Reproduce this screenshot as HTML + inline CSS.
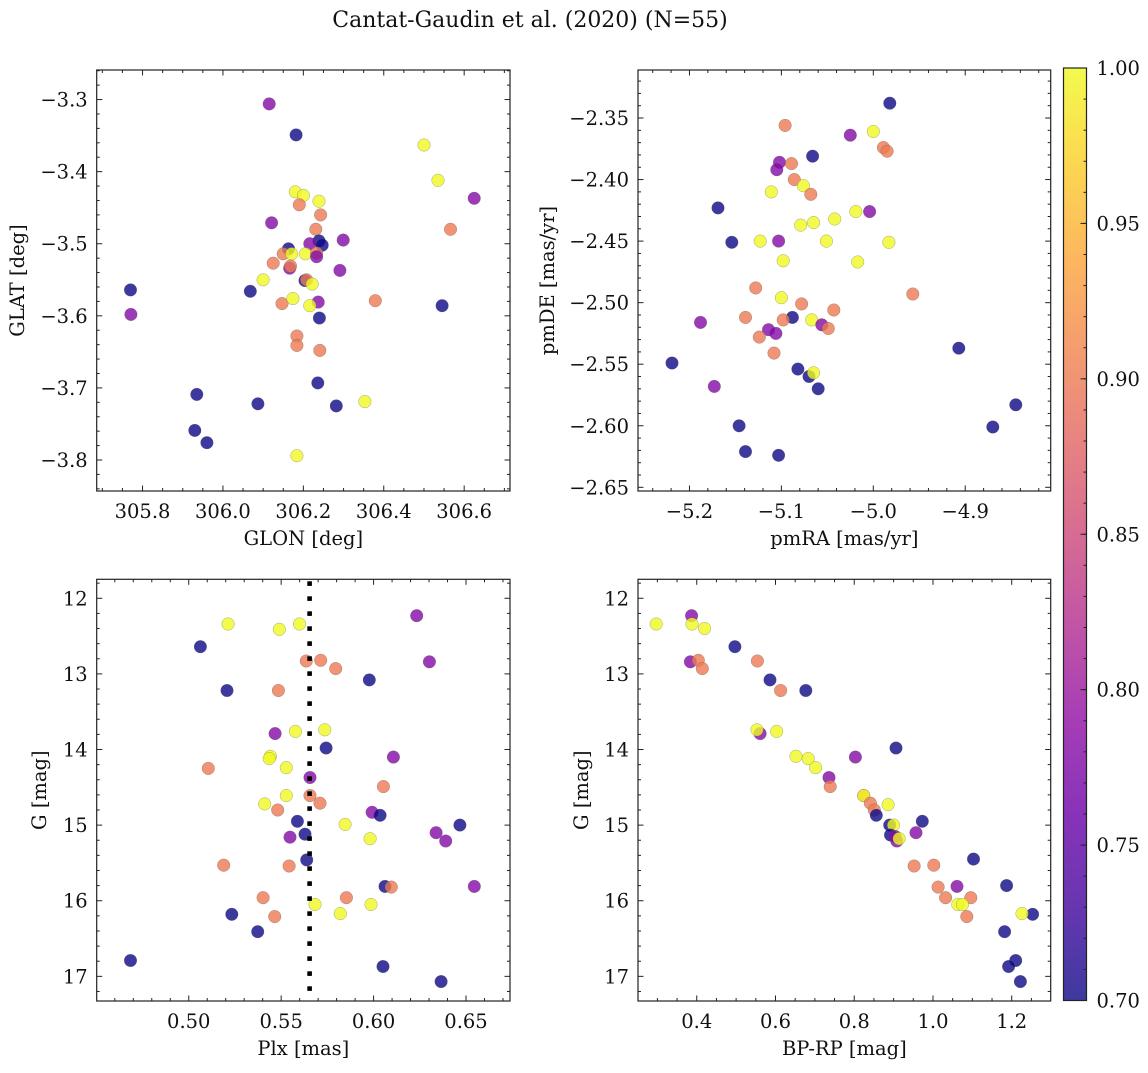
<!DOCTYPE html>
<html><head><meta charset="utf-8">
<style>
html,body{margin:0;padding:0;background:#fff;}
svg text{font-family:"DejaVu Serif","Liberation Serif",serif;fill:#111;}
</style></head>
<body>
<svg id="fig" width="1148" height="1068" viewBox="0 0 1148 1068" xmlns="http://www.w3.org/2000/svg">
<text x="530" y="27" font-size="22" text-anchor="middle">Cantat-Gaudin et al. (2020) (N=55)</text>
</svg>
<script>
// Panel 1: GLON vs GLAT
const p1x=[306.115,306.182,306.500,306.535,306.625,306.180,306.200,306.190,306.239,306.243,306.121,306.566,306.231,306.239,306.247,306.216,306.299,306.163,306.150,306.171,306.205,306.233,306.233,306.125,306.166,306.168,306.291,306.100,306.204,306.208,306.222,305.770,306.068,306.147,306.174,306.237,306.216,306.379,306.545,305.771,306.240,306.184,306.184,306.241,306.236,305.935,306.087,306.282,306.353,305.930,305.960,306.184];
const p1y=[-3.306,-3.349,-3.363,-3.412,-3.437,-3.428,-3.433,-3.446,-3.441,-3.460,-3.471,-3.480,-3.480,-3.496,-3.502,-3.500,-3.495,-3.507,-3.514,-3.514,-3.514,-3.513,-3.518,-3.527,-3.534,-3.531,-3.537,-3.550,-3.551,-3.550,-3.556,-3.564,-3.566,-3.583,-3.576,-3.581,-3.586,-3.579,-3.586,-3.598,-3.603,-3.628,-3.641,-3.648,-3.693,-3.709,-3.722,-3.725,-3.719,-3.759,-3.776,-3.794];
const p1c=[0.78,0.7,1,1,0.78,1,1,0.9,1,0.9,0.78,0.9,0.9,0.7,0.7,0.78,0.78,0.7,0.9,1,1,0.9,0.78,0.9,0.78,0.9,0.78,1,0.7,0.9,1,0.7,0.7,0.9,1,0.78,1,0.9,0.7,0.78,0.7,0.9,0.9,0.9,0.7,0.7,0.7,0.7,1,0.7,0.7,1];
// Panel 2: pmRA vs pmDE
const p2x=[-4.982,-5.096,-5.025,-5.000,-4.989,-4.985,-5.066,-5.102,-5.105,-5.089,-5.086,-5.076,-5.111,-5.068,-5.169,-5.019,-5.004,-5.042,-5.065,-5.079,-5.154,-5.123,-5.103,-5.051,-4.983,-5.098,-5.017,-5.128,-4.957,-5.100,-5.078,-5.043,-5.088,-5.139,-5.098,-5.067,-5.056,-5.049,-5.188,-5.114,-5.106,-5.124,-5.108,-4.907,-5.219,-5.082,-5.070,-5.065,-5.060,-5.173,-4.845,-5.146,-4.870,-5.139,-5.103];
const p2y=[-2.338,-2.356,-2.364,-2.361,-2.374,-2.377,-2.381,-2.386,-2.392,-2.387,-2.400,-2.405,-2.410,-2.412,-2.423,-2.426,-2.426,-2.432,-2.435,-2.437,-2.451,-2.450,-2.450,-2.450,-2.451,-2.466,-2.467,-2.488,-2.493,-2.496,-2.501,-2.506,-2.512,-2.512,-2.514,-2.514,-2.518,-2.521,-2.516,-2.522,-2.525,-2.528,-2.541,-2.537,-2.549,-2.554,-2.560,-2.557,-2.570,-2.568,-2.583,-2.600,-2.601,-2.621,-2.624];
const p2c=[0.7,0.9,0.78,1,0.9,0.9,0.7,0.78,0.78,0.9,0.9,1,1,0.9,0.7,1,0.78,1,1,1,0.7,1,0.78,1,1,1,1,0.9,0.9,1,0.9,0.9,0.7,0.9,0.9,1,0.78,0.9,0.78,0.78,0.78,0.9,0.9,0.7,0.7,0.7,0.7,1,0.7,0.78,0.7,0.7,0.7,0.7,0.7];
// Panel 3: Plx vs G
const p3x=[0.6233,0.5213,0.5490,0.5599,0.5063,0.5636,0.5714,0.5795,0.6302,0.5977,0.5207,0.5485,0.5467,0.5577,0.5736,0.5743,0.5442,0.5436,0.6107,0.5106,0.5528,0.5656,0.6053,0.5528,0.5656,0.5710,0.5411,0.5481,0.5992,0.6035,0.5588,0.5846,0.6467,0.5629,0.5548,0.5981,0.6338,0.6390,0.5638,0.5189,0.5543,0.6062,0.6096,0.6545,0.5402,0.5853,0.5683,0.5986,0.5820,0.5233,0.5465,0.5373,0.4685,0.6051,0.6365];
const p3y=[12.23,12.34,12.41,12.34,12.64,12.83,12.82,12.93,12.84,13.08,13.22,13.22,13.79,13.76,13.74,13.98,14.09,14.12,14.10,14.25,14.24,14.37,14.49,14.61,14.61,14.71,14.72,14.80,14.83,14.87,14.95,14.99,15.00,15.12,15.16,15.18,15.10,15.21,15.46,15.53,15.54,15.81,15.82,15.81,15.96,15.96,16.05,16.05,16.17,16.18,16.21,16.41,16.79,16.87,17.07];
const p3c=[0.78,1,1,1,0.7,0.9,0.9,0.9,0.78,0.7,0.7,0.9,0.78,1,1,0.7,1,1,0.78,0.9,1,0.78,0.9,1,0.9,0.9,1,0.9,0.78,0.7,0.7,1,0.7,0.7,0.78,1,0.78,0.78,0.7,0.9,0.9,0.7,0.9,0.78,0.9,0.9,1,1,1,0.7,0.9,0.7,0.7,0.7,0.7];
const plxRef=0.5654;
// Panel 4: BP-RP vs G
const p4x=[0.297,0.387,0.388,0.420,0.497,0.384,0.404,0.414,0.554,0.586,0.613,0.677,0.561,0.553,0.603,0.906,0.652,0.683,0.803,0.702,0.736,0.739,0.824,0.824,0.841,0.886,0.851,0.856,0.973,0.890,0.900,0.892,0.904,0.908,0.914,0.957,1.103,0.952,1.002,1.013,1.061,1.187,1.032,1.096,1.063,1.075,1.253,1.226,1.086,1.182,1.210,1.192,1.222];
const p4y=[12.34,12.23,12.34,12.40,12.64,12.84,12.82,12.93,12.83,13.08,13.22,13.22,13.79,13.74,13.76,13.98,14.09,14.12,14.10,14.24,14.37,14.49,14.61,14.61,14.71,14.73,14.80,14.87,14.95,15.00,15.00,15.13,15.15,15.21,15.18,15.10,15.45,15.54,15.53,15.82,15.81,15.80,15.96,15.96,16.05,16.05,16.18,16.17,16.21,16.41,16.79,16.87,17.07];
const p4c=[1,0.78,1,1,0.7,0.78,0.9,0.9,0.9,0.7,0.9,0.7,0.78,1,1,0.7,1,1,0.78,1,0.78,0.9,0.9,1,0.9,1,0.9,0.7,0.7,0.7,1,0.7,0.78,0.78,1,0.78,0.7,0.9,0.9,0.9,0.78,0.7,0.9,0.9,1,1,0.7,1,0.9,0.7,0.7,0.7,0.7];
const cbTicks=[0.70,0.75,0.80,0.85,0.90,0.95,1.00];

const NS="http://www.w3.org/2000/svg";
const svg=document.getElementById('fig');
const plasma=["#0d0887","#41049d","#6a00a8","#8f0da4","#b12a90","#cc4778","#e16462","#f2844b","#fca636","#fcce25","#f0f921"];
const FS=19.5;
function hx(h){return [1,3,5].map(i=>parseInt(h.substr(i,2),16));}
function cmap(v){let t=Math.max(0,Math.min(1,(v-0.7)/0.3))*10;let i=Math.min(9,Math.floor(t));let f=t-i;let a=hx(plasma[i]),b=hx(plasma[i+1]);return 'rgb('+a.map((x,k)=>Math.round(x+(b[k]-x)*f)).join(',')+')';}
function mk(tag,attrs,parent){const e=document.createElementNS(NS,tag);for(const k in attrs)e.setAttribute(k,attrs[k]);(parent||svg).appendChild(e);return e;}

function panel(o){
  const g=mk('g',{});
  
  
  const sx=v=>o.L+(v-o.xlim[0])/(o.xlim[1]-o.xlim[0])*(o.R-o.L);
  const sy=v=>o.inv? o.T+(v-o.ylim[0])/(o.ylim[1]-o.ylim[0])*(o.B-o.T) : o.B-(v-o.ylim[0])/(o.ylim[1]-o.ylim[0])*(o.B-o.T);
  const clip='clip-'+o.name;
  const cp=mk('clipPath',{id:clip},g);mk('rect',{x:o.L,y:o.T,width:o.R-o.L,height:o.B-o.T},cp);
  const pts=mk('g',{'clip-path':'url(#'+clip+')'},g);
  for(let i=0;i<o.xs.length;i++){
    const c=mk('circle',{cx:sx(o.xs[i]).toFixed(1),cy:sy(o.ys[i]).toFixed(1),r:6.3,fill:cmap(o.cs[i]),'fill-opacity':0.8,stroke:'#555','stroke-opacity':0.5,'stroke-width':0.5},pts);
    
    
  }
  if(o.vline!==undefined){
    const lg=mk('g',{fill:'#000'},g);
    
    
    const X=sx(o.vline);
    for(let y=o.T+2; y<o.B-2; y+=15){
      mk('rect',{x:(X-2.3).toFixed(1),y:y.toFixed(1),width:4.6,height:Math.min(4.6,o.B-y).toFixed(1)},lg);
    }
  }
  const fr=mk('rect',{x:o.L,y:o.T,width:o.R-o.L,height:o.B-o.T,fill:'none',stroke:'#222','stroke-width':1.2},g);
  
  
  const tk=mk('g',{stroke:'#222','stroke-width':1},g);
  const eps=1e-9;
  for(let v=Math.ceil(o.xlim[0]/o.xmin-eps)*o.xmin; v<=o.xlim[1]+eps; v+=o.xmin){
    const isMaj=Math.abs(v/o.xmaj-Math.round(v/o.xmaj))<1e-4;
    const len=isMaj?5.5:3; const X=sx(v);
    mk('line',{x1:X,x2:X,y1:o.B,y2:o.B-len},tk);mk('line',{x1:X,x2:X,y1:o.T,y2:o.T+len},tk);
    if(isMaj){const t=mk('text',{x:X,y:o.B+27,'font-size':FS,'text-anchor':'middle'},g);t.textContent=o.xf(v).replace('-','\u2212');
      }
  }
  for(let v=Math.ceil(o.ylim[0]/o.ymin-eps)*o.ymin; v<=o.ylim[1]+eps; v+=o.ymin){
    const isMaj=Math.abs(v/o.ymaj-Math.round(v/o.ymaj))<1e-4;
    const len=isMaj?5.5:3; const Y=sy(v);
    mk('line',{x1:o.L,x2:o.L+len,y1:Y,y2:Y},tk);mk('line',{x1:o.R,x2:o.R-len,y1:Y,y2:Y},tk);
    if(isMaj){const t=mk('text',{x:o.L-9,y:Y+7,'font-size':FS,'text-anchor':'end'},g);t.textContent=o.yf(v).replace('-','\u2212');
      }
  }
  const xl=mk('text',{x:(o.L+o.R)/2,y:o.B+54,'font-size':FS,'text-anchor':'middle'},g);xl.textContent=o.xlab;
  
  const yx=o.ylx, yy=(o.T+o.B)/2;
  const yl=mk('text',{x:yx,y:yy,'font-size':FS,'text-anchor':'middle',transform:'rotate(-90 '+yx+' '+yy+')'},g);yl.textContent=o.ylab;
  
}
const f1=v=>v.toFixed(1), f2=v=>v.toFixed(2), f0=v=>v.toFixed(0);
panel({name:'glon-glat-panel',L:96.7,R:510,T:70,B:491,xlim:[305.686,306.714],ylim:[-3.843,-3.259],xs:p1x,ys:p1y,cs:p1c,xmaj:0.2,xmin:0.05,ymaj:0.1,ymin:0.02,xf:f1,yf:f1,xlab:'GLON [deg]',ylab:'GLAT [deg]',ylx:24});
panel({name:'proper-motion-panel',L:638,R:1050.7,T:70,B:491,xlim:[-5.256,-4.807],ylim:[-2.653,-2.311],xs:p2x,ys:p2y,cs:p2c,xmaj:0.1,xmin:0.02,ymaj:0.05,ymin:0.01,xf:f1,yf:f2,xlab:'pmRA [mas/yr]',ylab:'pmDE [mas/yr]',ylx:554});
panel({name:'parallax-magnitude-panel',L:96.7,R:510,T:579.3,B:1001,xlim:[0.4502,0.6738],ylim:[11.749,17.326],inv:true,xs:p3x,ys:p3y,cs:p3c,xmaj:0.05,xmin:0.01,ymaj:1,ymin:0.2,xf:f2,yf:f0,xlab:'Plx [mas]',ylab:'G [mag]',ylx:46,vline:plxRef});
panel({name:'color-magnitude-panel',L:638,R:1050.7,T:579.3,B:1001,xlim:[0.2508,1.299],ylim:[11.749,17.326],inv:true,xs:p4x,ys:p4y,cs:p4c,xmaj:0.2,xmin:0.05,ymaj:1,ymin:0.2,xf:f1,yf:f0,xlab:'BP-RP [mag]',ylab:'G [mag]',ylx:588});

// colorbar
const cb=mk('g',{});


const CL=1063.5,CR=1086.5,CT=68,CB=1000.5;
const defs=mk('defs',{},cb);
const lg=mk('linearGradient',{id:'cbgrad',x1:0,y1:1,x2:0,y2:0},defs);
for(let i=0;i<=10;i++){mk('stop',{offset:i/10,'stop-color':plasma[i],'stop-opacity':0.8},lg);}
mk('rect',{x:CL,y:CT,width:CR-CL,height:CB-CT,fill:'url(#cbgrad)',stroke:'#222','stroke-width':1.2},cb);
const cy=v=>CB-(v-0.7)/0.3*(CB-CT);
for(let v=0.70;v<=1.0001;v+=0.01){mk('line',{x1:CR,x2:CR-3,y1:cy(v),y2:cy(v),stroke:'#222'},cb);}
cbTicks.forEach(v=>{
  mk('line',{x1:CR,x2:CR-6,y1:cy(v),y2:cy(v),stroke:'#222'},cb);
  const t=mk('text',{x:CR+10,y:cy(v)+7,'font-size':FS},cb);t.textContent=v.toFixed(2);
  
  
});
</script>
</body></html>
